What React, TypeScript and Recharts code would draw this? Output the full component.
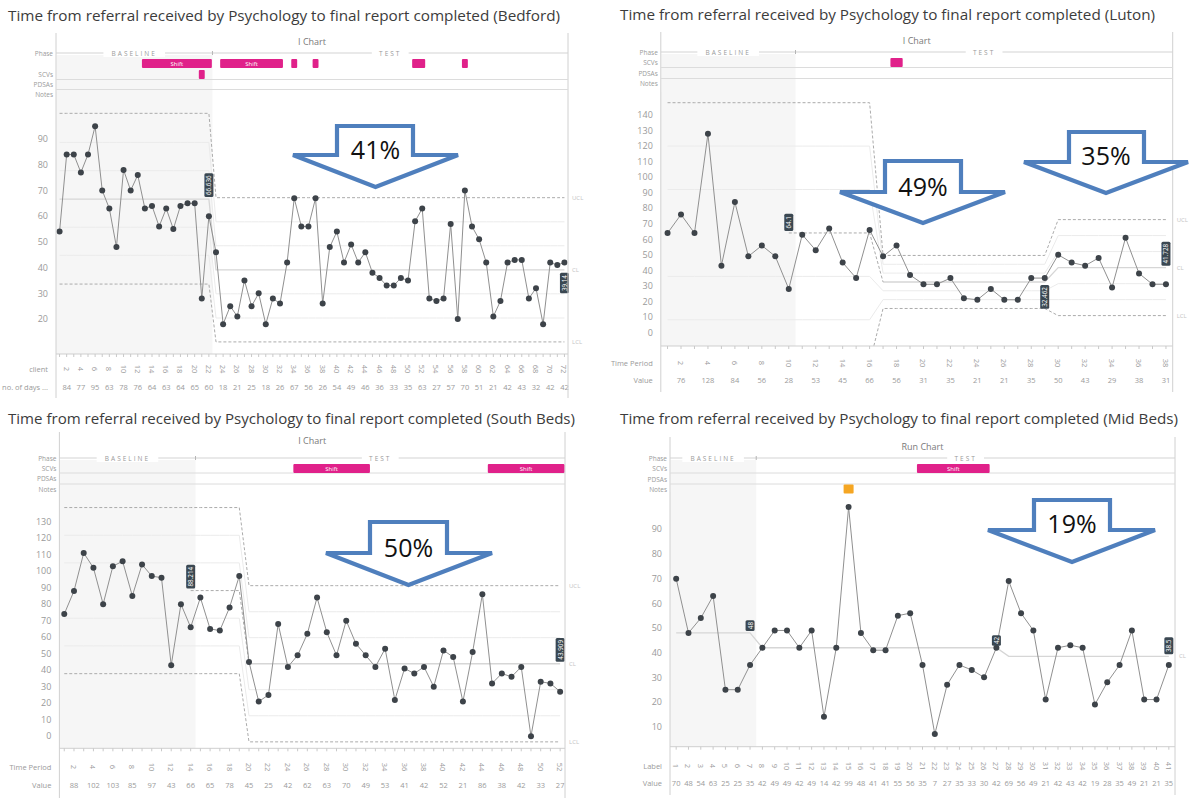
import React from "react";
import { ComposedChart, Line, XAxis, YAxis, ReferenceArea, ReferenceDot } from "recharts";

// values (days per referral)
const bedfordDays = [54, 84, 84, 77, 84, 95, 70, 63, 48, 78, 70, 76, 63, 64, 56, 63, 55, 64, 65, 65, 28, 60, 46, 18, 25, 21, 35, 25, 30, 18, 28, 26, 42, 67, 56, 56, 67, 26, 48, 54, 42, 49, 42, 46, 38, 36, 33, 33, 36, 35, 58, 63, 28, 27, 28, 57, 20, 70, 56, 51, 42, 21, 27, 42, 43, 43, 28, 32, 18, 42, 41, 42];
const lutonDays = [64, 76, 64, 128, 43, 84, 49, 56, 49, 28, 63, 53, 67, 45, 35, 66, 49, 56, 37, 31, 31, 35, 22, 21, 28, 21, 21, 35, 35, 50, 45, 43, 48, 29, 61, 38, 31, 31];
const southDays = [74, 88, 111, 102, 80, 103, 106, 85, 104, 97, 96, 43, 80, 66, 84, 65, 64, 78, 97, 45, 21, 25, 68, 42, 49, 62, 84, 63, 49, 70, 56, 49, 42, 53, 22, 41, 38, 42, 30, 52, 48, 21, 51, 86, 32, 38, 36, 42, 0, 33, 32, 27];
const midDays = [70, 48, 54, 63, 25, 25, 35, 42, 49, 49, 42, 49, 14, 42, 99, 48, 41, 41, 55, 56, 35, 7, 27, 35, 33, 30, 42, 69, 56, 49, 21, 42, 43, 42, 19, 28, 35, 49, 21, 21, 35];

const bedfordClients = bedfordDays.map((_, i) => i + 1);
const lutonPeriods = lutonDays.map((_, i) => i + 1);
const southPeriods = southDays.map((_, i) => i + 1);
const midLabels = midDays.map((_, i) => i + 1);

// control limits per phase (UCL, +2s, +1s, CL, -1s, -2s, LCL)
const bedfordPhases = [
  { from: 1, to: 22, ucl: 100, u2: 88.7, u1: 77.7, cl: 66.636, l1: 55.7, l2: 44.8, lcl: 33.6 },
  { from: 23, to: 72, ucl: 67.2, u2: 57.8, u1: 48.5, cl: 39.14, l1: 29.8, l2: 20.4, lcl: 11.1 },
];
const lutonPhases = [
  { from: 1, to: 16, ucl: 148.1, u2: 120.1, u1: 92.1, cl: 64.1, l1: 36.1, l2: 8.1, lcl: -19.9 },
  { from: 17, to: 29, ucl: 49.6, u2: 43.9, u1: 38.2, cl: 32.462, l1: 26.8, l2: 21.1, lcl: 15.4 },
  { from: 30, to: 38, ucl: 72.7, u2: 62.4, u1: 52.1, cl: 41.728, l1: 31.4, l2: 21.1, lcl: 10.8 },
];
const southPhases = [
  { from: 1, to: 19, ucl: 138.5, u2: 121.7, u1: 105.0, cl: 88.214, l1: 71.5, l2: 54.7, lcl: 37.9 },
  { from: 20, to: 52, ucl: 91.2, u2: 75.4, u1: 59.7, cl: 43.909, l1: 28.2, l2: 12.4, lcl: -3.4 },
];
const midMedians = [
  { from: 1, to: 7, cl: 48 },
  { from: 8, to: 27, cl: 42 },
  { from: 28, to: 41, cl: 38.5 },
];

const bedfordTags = [
  { at: 22, value: 66.636, text: "66.636", up: true },
  { at: 72, value: 39.14, text: "39.14", up: false },
];
const lutonTags = [
  { at: 10, value: 64.1, text: "64.1", up: true },
  { at: 29, value: 32.462, text: "32.462", up: false },
  { at: 38, value: 41.728, text: "41.728", up: true },
];
const southTags = [
  { at: 14, value: 88.214, text: "88.214", up: true },
  { at: 52, value: 43.909, text: "43.909", up: true },
];
const midTags = [
  { at: 7, value: 48, text: "48", up: true },
  { at: 27, value: 42, text: "42", up: true },
  { at: 41, value: 38.5, text: "38.5", up: true },
];

// special cause signals [from, to]
const bedfordShifts = [[13, 22], [24, 32], [34, 34], [37, 37], [51, 52], [58, 58]];
const bedfordScvRow2 = [[21, 21]];
const lutonShifts = [[18, 18]];
const southShifts = [[25, 32], [45, 52]];
const midShifts = [[21, 26]];
const midNotes = [15];

const bedfordTicks = [20, 30, 40, 50, 60, 70, 80, 90];
const lutonTicks = [0, 10, 20, 30, 40, 50, 60, 70, 80, 90, 100, 110, 120, 130, 140];
const southTicks = [0, 10, 20, 30, 40, 50, 60, 70, 80, 90, 100, 110, 120, 130];
const midTicks = [10, 20, 30, 40, 50, 60, 70, 80, 90];

const arrows = [
  { pct: "41%", sl: 337, sr: 413, top: 126, head: 155, hl: 293, hr: 458, tx: 375.5, ty: 187, textY: 149 },
  { pct: "49%", sl: 885, sr: 961, top: 161, head: 192, hl: 840, hr: 1005, tx: 923, ty: 223, textY: 186 },
  { pct: "35%", sl: 1069, sr: 1144, top: 132, head: 162, hl: 1024, hr: 1188, tx: 1106, ty: 193, textY: 155 },
  { pct: "50%", sl: 370, sr: 447, top: 522, head: 553, hl: 326, hr: 492, tx: 408.5, ty: 585, textY: 547 },
  { pct: "19%", sl: 1034, sr: 1110, top: 500, head: 530, hl: 988, hr: 1155, tx: 1072, ty: 562, textY: 523 },
];

const panels = [
  {
    id: "bedford",
    title: "Time from referral received by Psychology to final report completed (Bedford)",
    kind: "I Chart",
    values: bedfordDays, cats: bedfordClients, phases: bedfordPhases, clFrom: 1, proj: null,
    tags: bedfordTags, yTicks: bedfordTicks, baselineEnd: 22, tickEvery: 2,
    shifts: bedfordShifts, scv2: bedfordScvRow2, notes: [],
    rowLabels: ["client", "no. of days ..."],
    chartLeft: 0, chartTop: 0, chartW: 600, chartH: 400,
    plotLeft: 56, plotRight: 568, plotTop: 92, plotBottom: 354,
    xDomain: [0.5, 72.5], yDomain: [6.4, 108.3], labelDy: 15, valueDy: 33,
    h: { titleX: 8, titleY: 15, titleLen: 552, kindY: 41, frameTop: 33, frameBottom: 398, phaseY: 53, scvY: 74, pdsaY: 84.5, notesY: 94.5, lines: [79.5, 89.5], bar: [59, 68], bar2: [70, 79] },
  },
  {
    id: "luton",
    title: "Time from referral received by Psychology to final report completed (Luton)",
    kind: "I Chart",
    values: lutonDays, cats: lutonPeriods, phases: lutonPhases, clFrom: 17, proj: { from: 10, to: 16, value: 64.1 },
    tags: lutonTags, yTicks: lutonTicks, baselineEnd: 10, tickEvery: 2,
    shifts: lutonShifts, scv2: [], notes: [],
    rowLabels: ["Time Period", "Value"],
    chartLeft: 600, chartTop: 0, chartW: 600, chartH: 400,
    plotLeft: 660.8, plotRight: 1172.7, plotTop: 92, plotBottom: 346,
    xDomain: [0.5, 38.5], yDomain: [-8.8, 155], labelDy: 17, valueDy: 34,
    h: { titleX: 620, titleY: 14, titleLen: 535, kindY: 40, frameTop: 32, frameBottom: 392, phaseY: 52, scvY: 62.5, pdsaY: 73, notesY: 83.5, lines: [67.5, 78.5], bar: [58, 67] },
  },
  {
    id: "south",
    title: "Time from referral received by Psychology to final report completed (South Beds)",
    kind: "I Chart",
    values: southDays, cats: southPeriods, phases: southPhases, clFrom: 20, proj: { from: 14, to: 19, value: 88.214 },
    tags: southTags, yTicks: southTicks, baselineEnd: 14, tickEvery: 2,
    shifts: southShifts, scv2: [], notes: [],
    rowLabels: ["Time Period", "Value"],
    chartLeft: 0, chartTop: 400, chartW: 600, chartH: 406,
    plotLeft: 59.4, plotRight: 565, plotTop: 496, plotBottom: 748.3,
    xDomain: [0.5, 52.5], yDomain: [-7.3, 145.5], labelDy: 18.7, valueDy: 36.7,
    h: { titleX: 8, titleY: 418, titleLen: 567, kindY: 440, frameTop: 432, frameBottom: 798, phaseY: 458, scvY: 468, pdsaY: 478.5, notesY: 489, lines: [473, 484], bar: [464, 473] },
  },
  {
    id: "mid",
    title: "Time from referral received by Psychology to final report completed (Mid Beds)",
    kind: "Run Chart",
    values: midDays, cats: midLabels, phases: midMedians, clFrom: 1, proj: null,
    tags: midTags, yTicks: midTicks, baselineEnd: 7, tickEvery: 1,
    shifts: midShifts, scv2: [], notes: midNotes,
    rowLabels: ["Label", "Value"],
    chartLeft: 600, chartTop: 400, chartW: 600, chartH: 406,
    plotLeft: 670, plotRight: 1175, plotTop: 492, plotBottom: 746.7,
    xDomain: [0.5, 41.5], yDomain: [1.9, 105.1], labelDy: 19.3, valueDy: 36.3,
    h: { titleX: 620, titleY: 418, titleLen: 558, kindY: 446, frameTop: 437, frameBottom: 795, phaseY: 458, scvY: 468, pdsaY: 479, notesY: 489, lines: [473, 484], bar: [464, 473] },
  },
];

const px = (c: any, n: number) =>
  c.plotLeft + ((n - c.xDomain[0]) / (c.xDomain[1] - c.xDomain[0])) * (c.plotRight - c.plotLeft);
const py = (c: any, v: number) =>
  c.plotBottom - ((v - c.yDomain[0]) / (c.yDomain[1] - c.yDomain[0])) * (c.plotBottom - c.plotTop);

function buildRows(c: any) {
  return c.values.map((v: number, i: number) => {
    const n = c.cats[i];
    const ph = c.phases.find((p: any) => n >= p.from && n <= p.to);
    let proj = null;
    if (c.proj) {
      if (n >= c.proj.from && n <= c.proj.to) proj = c.proj.value;
      else if (n === c.proj.to + 1) proj = ph.cl;
    }
    return {
      n, v,
      ucl: ph.ucl ?? null, u2: ph.u2 ?? null, u1: ph.u1 ?? null,
      l1: ph.l1 ?? null, l2: ph.l2 ?? null, lcl: ph.lcl ?? null,
      cl: n >= c.clFrom ? ph.cl : null,
      proj,
    };
  });
}

function TableTick(props: any) {
  const { x, y, payload, c } = props;
  const n = payload.value;
  const show = n % c.tickEvery === 0;
  return (
    <g>
      <line x1={x} x2={x} y1={y} y2={y + 3} stroke="#c9c9c9" />
      {show && (
        <text transform={`translate(${x},${y + c.labelDy}) rotate(90)`} textAnchor="middle" dominantBaseline="central" fontSize={7.5} fill="#9a9a9a">
          {n}
        </text>
      )}
      {show && (
        <text x={x} y={y + c.valueDy} textAnchor="middle" dominantBaseline="central" fontSize={7.5} fill="#9a9a9a">
          {c.values[n - 1]}
        </text>
      )}
    </g>
  );
}

function ValueTag(props: any) {
  const { cx, cy, text, up } = props;
  if (cx == null || cy == null) return null;
  const h = text.length * 3.3 + 4;
  const w = 9;
  const y0 = up ? cy - h - 2 : cy + 3;
  return (
    <g>
      <rect x={cx - w / 2} y={y0} width={w} height={h} rx={1.5} fill="#3b4852" />
      <text transform={`translate(${cx},${y0 + h / 2}) rotate(-90)`} textAnchor="middle" dominantBaseline="central" fontSize={6.3} fill="#fff">
        {text}
      </text>
    </g>
  );
}

function Panel({ c }: { c: any }) {
  const rows = buildRows(c);
  const yw = 40;
  const margin = {
    left: c.plotLeft - c.chartLeft - yw,
    right: c.chartLeft + c.chartW - c.plotRight,
    top: c.plotTop - c.chartTop,
    bottom: 0,
  };
  const xh = c.chartTop + c.chartH - c.plotBottom;
  const hasLimits = c.phases[0].ucl !== undefined;
  const faint = { stroke: "#ebebeb", strokeWidth: 1, dot: false, activeDot: false, isAnimationActive: false };
  const dashed = { stroke: "#ababab", strokeWidth: 1, strokeDasharray: "3 2", dot: false, activeDot: false, isAnimationActive: false };
  return (
    <div style={{ position: "absolute", left: c.chartLeft, top: c.chartTop }}>
      <ComposedChart width={c.chartW} height={c.chartH} data={rows} margin={margin}>
        <ReferenceArea x1={c.xDomain[0]} x2={c.baselineEnd + 0.5} fill="#f6f6f6" fillOpacity={1} stroke="none" ifOverflow="hidden" />
        <XAxis
          dataKey="n"
          type="number"
          domain={c.xDomain}
          ticks={c.cats}
          interval={0}
          allowDataOverflow
          height={xh}
          tickSize={0}
          tickMargin={0}
          tickLine={false}
          axisLine={{ stroke: "#cfcfcf" }}
          tick={(p: any) => <TableTick {...p} c={c} />}
        />
        <YAxis
          type="number"
          domain={c.yDomain}
          ticks={c.yTicks}
          interval={0}
          allowDataOverflow
          width={yw}
          axisLine={false}
          tickLine={false}
          tick={{ fontSize: 9, fill: "#9a9a9a" }}
        />
        {hasLimits && <Line dataKey="u2" {...faint} />}
        {hasLimits && <Line dataKey="u1" {...faint} />}
        {hasLimits && <Line dataKey="l1" {...faint} />}
        {hasLimits && <Line dataKey="l2" {...faint} />}
        <Line dataKey="cl" stroke="#d6d6d6" strokeWidth={1.3} dot={false} activeDot={false} isAnimationActive={false} />
        {c.proj && <Line dataKey="proj" {...dashed} />}
        {hasLimits && <Line dataKey="ucl" {...dashed} />}
        {hasLimits && <Line dataKey="lcl" {...dashed} />}
        <Line
          dataKey="v"
          stroke="#909090"
          strokeWidth={1}
          dot={{ r: 3, fill: "#3d4349", stroke: "#3d4349", strokeWidth: 0 }}
          activeDot={false}
          isAnimationActive={false}
        />
        {c.tags.map((t: any) => (
          <ReferenceDot key={t.at} x={t.at} y={t.value} ifOverflow="visible" shape={(p: any) => <ValueTag {...p} text={t.text} up={t.up} />} />
        ))}
      </ComposedChart>
    </div>
  );
}

function PhaseLabel({ x, y, text }: { x: number; y: number; text: string }) {
  const w = text.length * 6.2 + 12;
  return (
    <g>
      <rect x={x - w / 2} y={y - 4} width={w} height={8} fill="#fff" />
      <text x={x} y={y} textAnchor="middle" dominantBaseline="central" fontSize={6.5} letterSpacing={2} fill="#9a9a9a">
        {text}
      </text>
    </g>
  );
}

function Header({ c }: { c: any }) {
  const h = c.h;
  const bx = px(c, c.baselineEnd + 0.5);
  const mid = (c.plotLeft + c.plotRight) / 2;
  const last = c.phases[c.phases.length - 1];
  const lab = { fontSize: 6.5, fill: "#9a9a9a", textAnchor: "end" as const, dominantBaseline: "central" as const };
  const bars = (list: number[][], y: number[]) =>
    list.map(([a, b], i) => {
      const x0 = px(c, a - 0.5) + 0.6;
      const x1 = px(c, b + 0.5) - 0.6;
      return (
        <g key={`${y[0]}-${i}`}>
          <rect x={x0} y={y[0]} width={x1 - x0} height={y[1] - y[0]} rx={1} fill="#e0218a" />
          {x1 - x0 > 30 && (
            <text x={(x0 + x1) / 2} y={(y[0] + y[1]) / 2} textAnchor="middle" dominantBaseline="central" fontSize={6} fill="#fff">
              Shift
            </text>
          )}
        </g>
      );
    });
  return (
    <g>
      <text x={h.titleX} y={h.titleY} textLength={h.titleLen} lengthAdjust="spacingAndGlyphs" fontSize={14.5} fill="#3c3c3c" dominantBaseline="central">
        {c.title}
      </text>
      <text x={mid} y={h.kindY} textAnchor="middle" dominantBaseline="central" fontSize={9} fill="#7a7a7a">
        {c.kind}
      </text>
      <rect x={c.plotLeft + 0.5} y={h.phaseY + 2} width={bx - c.plotLeft - 0.5} height={c.plotTop - h.phaseY - 2} fill="#f6f6f6" />
      <line x1={c.plotLeft} x2={c.plotLeft} y1={h.frameTop} y2={h.frameBottom} stroke="#d0d0d0" />
      <line x1={c.plotRight} x2={c.plotRight} y1={h.frameTop} y2={h.frameBottom} stroke="#d0d0d0" />
      <line x1={c.plotLeft} x2={c.plotRight} y1={h.phaseY} y2={h.phaseY} stroke="#d3d3d3" />
      <line x1={bx} x2={bx} y1={h.phaseY - 2} y2={h.phaseY + 2} stroke="#b5b5b5" />
      <PhaseLabel x={(c.plotLeft + bx) / 2} y={h.phaseY} text="BASELINE" />
      <PhaseLabel x={(bx + c.plotRight) / 2} y={h.phaseY} text="TEST" />
      {h.lines.map((y: number) => (
        <line key={y} x1={c.plotLeft} x2={c.plotRight} y1={y} y2={y} stroke="#dcdcdc" />
      ))}
      <text x={c.plotLeft - 3} y={h.phaseY} {...lab}>Phase</text>
      <text x={c.plotLeft - 3} y={h.scvY} {...lab}>SCVs</text>
      <text x={c.plotLeft - 3} y={h.pdsaY} {...lab}>PDSAs</text>
      <text x={c.plotLeft - 3} y={h.notesY} {...lab}>Notes</text>
      {bars(c.shifts, h.bar)}
      {h.bar2 && bars(c.scv2, h.bar2)}
      {c.notes.map((n: number) => (
        <rect key={n} x={px(c, n) - 5} y={h.notesY - 4.5} width={10} height={9} rx={1} fill="#f5a623" />
      ))}
      <text x={c.plotLeft - 8} y={c.plotBottom + c.labelDy} {...lab} fontSize={7.5}>{c.rowLabels[0]}</text>
      <text x={c.plotLeft - 8} y={c.plotBottom + c.valueDy} {...lab} fontSize={7.5}>{c.rowLabels[1]}</text>
      {last.ucl !== undefined && (
        <text x={c.plotRight + 4} y={py(c, last.ucl)} fontSize={6} fill="#c4c4c4" dominantBaseline="central">UCL</text>
      )}
      <text x={c.plotRight + 4} y={py(c, last.cl)} fontSize={6} fill="#c4c4c4" dominantBaseline="central">CL</text>
      {last.lcl !== undefined && (
        <text x={c.plotRight + 4} y={py(c, last.lcl)} fontSize={6} fill="#c4c4c4" dominantBaseline="central">LCL</text>
      )}
    </g>
  );
}

function Arrow({ a }: { a: any }) {
  const pts = [
    [a.sl, a.top], [a.sr, a.top], [a.sr, a.head], [a.hr, a.head],
    [a.tx, a.ty], [a.hl, a.head], [a.sl, a.head],
  ].map((p) => p.join(",")).join(" ");
  return (
    <g>
      <polygon points={pts} fill="#fff" stroke="#4f7fbd" strokeWidth={4.2} strokeLinejoin="miter" />
      <text x={a.tx} y={a.textY} textAnchor="middle" dominantBaseline="central" fontSize={25} fill="#111" fontFamily="'Open Sans', 'Noto Sans', sans-serif">
        {a.pct}
      </text>
    </g>
  );
}

export default function App() {
  return (
    <div
      style={{
        position: "absolute",
        left: 0,
        top: 0,
        width: 1200,
        height: 806,
        background: "#fff",
        overflow: "hidden",
        fontFamily: "'Open Sans', 'Noto Sans', sans-serif",
      }}
    >
      {panels.map((c) => (
        <Panel key={c.id} c={c} />
      ))}
      <svg width={1200} height={806} style={{ position: "absolute", left: 0, top: 0, pointerEvents: "none" }}>
        {panels.map((c) => (
          <Header key={c.id} c={c} />
        ))}
        {arrows.map((a) => (
          <Arrow key={a.pct} a={a} />
        ))}
      </svg>
    </div>
  );
}
